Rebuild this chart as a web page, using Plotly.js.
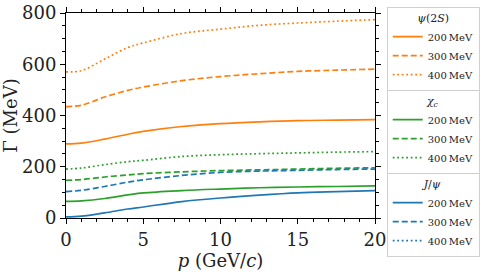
<!DOCTYPE html>
<html>
<head>
<meta charset="utf-8">
<script src="https://cdn.plot.ly/plotly-3.0.1.min.js"></script>
<style>html,body{margin:0;padding:0;background:#fff;}#chart{width:484px;height:277px;}</style>
</head>
<body>
<div id="chart"></div>
<script>
// momentum p (GeV/c)
const p = [0, 1, 2.5, 4, 5, 7.5, 10, 12.5, 15, 17.5, 20];
// psi(2S)
const psi2S_200 = [289, 292, 308, 327, 338, 357, 368, 375, 380, 382, 384];
const psi2S_300 = [435, 440, 472, 498, 511, 536, 552, 563, 572, 577, 581];
const psi2S_400 = [570, 575, 620, 665, 683, 720, 737, 752, 761, 768, 774];
// chi_c
const chic_200 = [65, 67, 76, 90, 98, 107, 113, 118, 121, 123, 125];
const chic_300 = [147, 150, 160, 168, 173, 180, 185, 188, 191, 194, 196];
const chic_400 = [191, 195, 208, 220, 225, 240, 247, 251, 254, 257, 259];
// J/psi
const jpsi_200 = [4, 7, 20, 35, 43, 64, 78, 89, 98, 103, 107];
const jpsi_300 = [103, 108, 123, 140, 149, 166, 178, 183, 186, 189, 191];
const jpsi_400 = [null, null, null, null, null, null, null, null, null, null, null];
const labels = ['200\u2009MeV', '300\u2009MeV', '400\u2009MeV'];

const ORANGE = '#ff7f0e', GREEN = '#2ca02c', BLUE = '#1f77b4';
const dashes = ['solid', '6px,3px', '1.8px,2.7px'];

function mk(y, color, i, leg) {
  return {
    x: p, y: y, type: 'scatter', mode: 'lines',
    line: {color: color, width: 1.7, dash: dashes[i], shape: 'spline', smoothing: 1},
    name: labels[i], legend: leg, showlegend: true, legendrank: i + 1
  };
}

const data = [
  mk(jpsi_400, BLUE, 2, 'legend3'),
  mk(chic_200, GREEN, 0, 'legend2'),
  mk(chic_300, GREEN, 1, 'legend2'),
  mk(chic_400, GREEN, 2, 'legend2'),
  mk(jpsi_200, BLUE, 0, 'legend3'),
  mk(jpsi_300, BLUE, 1, 'legend3'),
  mk(psi2S_200, ORANGE, 0, 'legend'),
  mk(psi2S_300, ORANGE, 1, 'legend'),
  mk(psi2S_400, ORANGE, 2, 'legend'),
  // carrier for the mirrored top/right tick axes (invisible)
  {x: p, y: psi2S_200, xaxis: 'x2', yaxis: 'y2', type: 'scatter', mode: 'lines',
   line: {width: 0, color: 'rgba(0,0,0,0)'}, showlegend: false, hoverinfo: 'skip'}
];

const FONT = 'DejaVu Serif';
const legBase = {
  x: 1.038, xanchor: 'left', yanchor: 'top',
  bgcolor: 'rgba(255,255,255,0.9)', bordercolor: '#d0d0d0', borderwidth: 1,
  font: {family: FONT, size: 10, color: '#222'},
  tracegroupgap: 0, itemwidth: 30, traceorder: 'normal'
};
function leg(y, title) {
  return Object.assign({}, legBase, {y: y, title: {text: title, side: 'top center', font: {family: FONT, size: 11, color: '#222'}}});
}

const tickFont = {family: FONT, size: 18, color: '#222'};
const axBase = {
  showgrid: false, zeroline: false, showline: true, linecolor: '#000', linewidth: 1,
  mirror: true, ticks: 'outside', ticklen: 5, tickwidth: 1, tickcolor: '#000',
  tickfont: tickFont
};

const layout = {
  width: 484, height: 277,
  margin: {l: 66, r: 109, t: 13, b: 59, autoexpand: false},
  paper_bgcolor: '#fff', plot_bgcolor: '#fff',
  font: {family: FONT},
  xaxis: Object.assign({}, axBase, {
    range: [0, 20], tickvals: [0, 5, 10, 15, 20], ticktext: ['0', '5', '10', '15', '20'],
    minor: {dtick: 1, tick0: 0, ticks: 'outside', ticklen: 3, tickcolor: '#000', showgrid: false},
    title: {text: '<i>p</i> (GeV/<i>c</i>)', font: tickFont, standoff: 0}
  }),
  yaxis: Object.assign({}, axBase, {
    range: [0, 800], tickvals: [0, 200, 400, 600, 800],
    minor: {dtick: 50, tick0: 0, ticks: 'outside', ticklen: 3, tickcolor: '#000', showgrid: false},
    title: {text: 'Γ (MeV)', font: tickFont, standoff: 3}
  }),
  xaxis2: {overlaying: 'x', side: 'top', anchor: 'y', range: [0, 20], showgrid: false, zeroline: false,
    showline: false, showticklabels: false, ticks: 'outside', ticklen: 5, tickcolor: '#000', dtick: 5, tick0: 0,
    minor: {dtick: 1, tick0: 0, ticks: 'outside', ticklen: 3, tickcolor: '#000', showgrid: false}},
  yaxis2: {overlaying: 'y', side: 'right', anchor: 'x', range: [0, 800], showgrid: false, zeroline: false,
    showline: false, showticklabels: false, ticks: 'outside', ticklen: 5, tickcolor: '#000', dtick: 200, tick0: 0,
    minor: {dtick: 50, tick0: 0, ticks: 'outside', ticklen: 3, tickcolor: '#000', showgrid: false}},
  legend: leg(1.03, '<i>ψ</i>(2<i>S</i>)'),
  legend2: leg(0.625, '<i>χ<sub>c</sub></i>'),
  legend3: leg(0.22, '<i>J</i>/<i>ψ</i>'),
  showlegend: true
};

Plotly.newPlot('chart', data, layout, {displayModeBar: false, staticPlot: true});
</script>
</body>
</html>
